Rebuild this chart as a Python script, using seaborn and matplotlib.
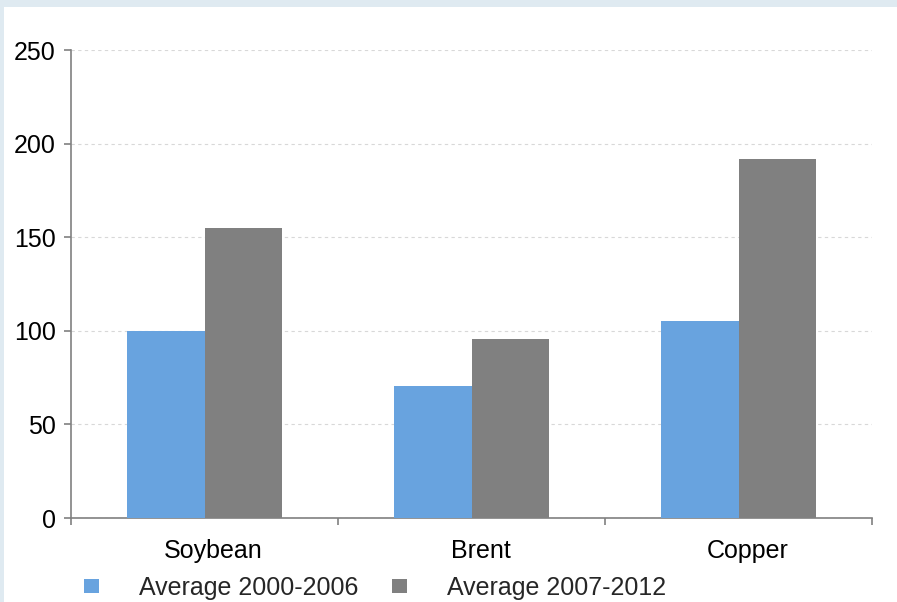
import matplotlib
matplotlib.use("Agg")
import matplotlib.pyplot as plt
import matplotlib.transforms as mtransforms
import seaborn as sns
import pandas as pd
from matplotlib.patches import Rectangle

commodities = ["Soybean", "Brent", "Copper"]
periods = ["Average 2000-2006", "Average 2007-2012"]
avg_2000_2006 = [100, 70.5, 105]
avg_2007_2012 = [155, 95.5, 192]
y_ticks = [0, 50, 100, 150, 200, 250]

df = pd.DataFrame({
    "commodity": commodities * 2,
    "period": [periods[0]] * 3 + [periods[1]] * 3,
    "value": avg_2000_2006 + avg_2007_2012,
})

sns.set_theme(style="white")
plt.rcParams["font.family"] = ["Liberation Sans", "DejaVu Sans"]

W, H = 897, 602
fig = plt.figure(figsize=(W / 100, H / 100), dpi=100)
fig.patch.set_facecolor("#dfeaf1")
fig.add_artist(Rectangle((4 / W, 0), 1 - 4 / W, 1 - 7 / H, transform=fig.transFigure,
                         facecolor="white", edgecolor="none", zorder=0))

ax = fig.add_axes([71 / W, 1 - 518 / H, (872 - 71) / W, (518 - 50) / H])
ax.set_facecolor("none")

palette = {periods[0]: "#68a3df", periods[1]: "#808080"}
sns.barplot(data=df, x="commodity", y="value", hue="period", palette=palette,
            width=0.58, gap=0, saturation=1, ax=ax, edgecolor="none", linewidth=0,
            zorder=3)

ax.set_xlim(-0.5, 2.5)
ax.set_ylim(0, 250)
ax.set_yticks(y_ticks)
ax.set_xlabel("")
ax.set_ylabel("")

axis_color = "#808080"
for side in ["top", "right"]:
    ax.spines[side].set_visible(False)
for side in ["left", "bottom"]:
    ax.spines[side].set_color(axis_color)
    ax.spines[side].set_linewidth(1.2)

ax.yaxis.grid(True, linestyle=(0, (3, 3)), color="#d8d8d8", linewidth=0.8, zorder=0)
ax.set_axisbelow(True)

ax.tick_params(axis="y", which="major", left=True, length=5, width=1.2, color=axis_color,
               labelsize=18, pad=6, labelcolor="black")
ax.set_xticks([-0.5, 0.5, 1.5, 2.5], minor=True)
ax.tick_params(axis="x", which="major", bottom=False, length=0, labelsize=18, pad=15,
               labelcolor="black")
ax.tick_params(axis="x", which="minor", bottom=True, length=5, width=1.2, color=axis_color)

# category labels sit a little right of the bar-pair centre
shift = mtransforms.ScaledTranslation(9 / 100, 0, fig.dpi_scale_trans)
for lbl in ax.get_xticklabels():
    lbl.set_transform(lbl.get_transform() + shift)

handles, labels = ax.get_legend_handles_labels()
ax.legend_.remove()
fig.legend(handles, labels, loc="center left", bbox_to_anchor=(84 / W, 1 - 588 / H),
           ncol=2, frameon=False, fontsize=18, handlelength=0.6, handleheight=0.45,
           handletextpad=1.6, columnspacing=1.35, borderpad=0, borderaxespad=0)

fig.savefig("out.png", dpi=100, facecolor=fig.get_facecolor())
